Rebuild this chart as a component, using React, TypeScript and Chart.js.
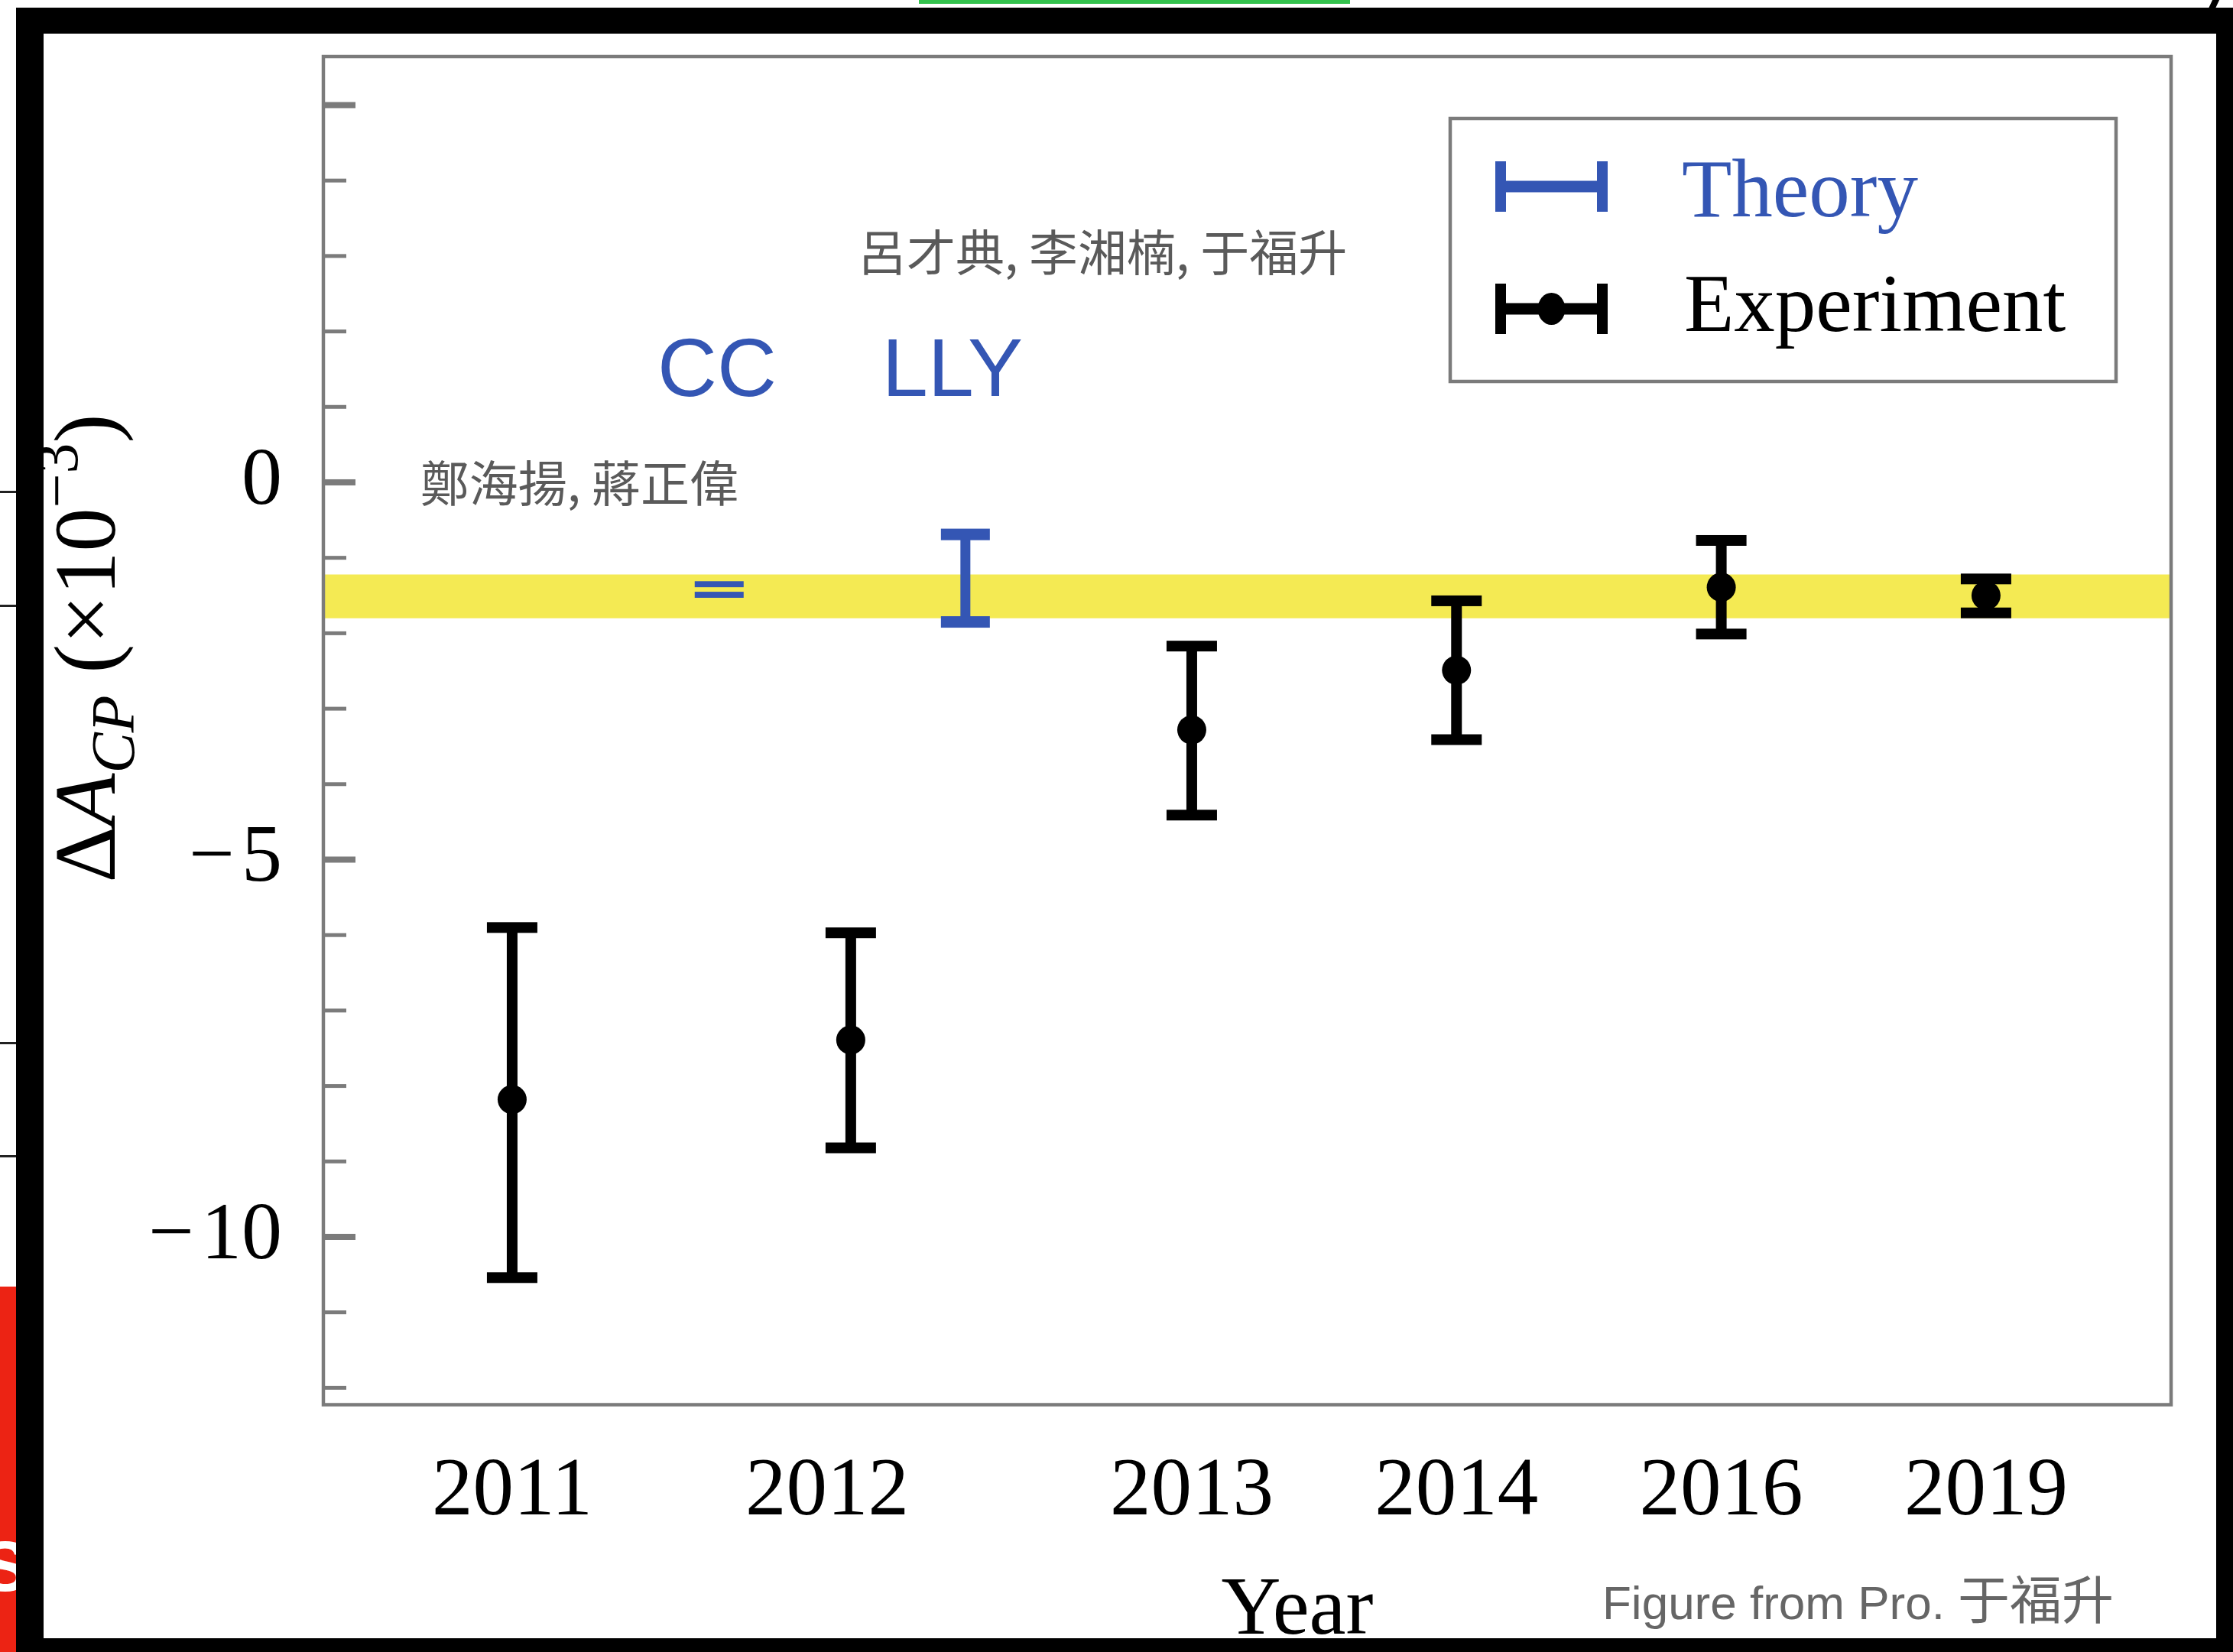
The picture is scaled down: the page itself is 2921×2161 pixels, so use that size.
import React, { useEffect, useRef } from "react";
import { Chart, registerables } from "chart.js";

Chart.register(...registerables);

// ---------------- data ----------------
const X_TICK_POS = [0.433, 1.623, 3, 4, 5, 6];
const X_TICK_LABELS = ["2011", "2012", "2013", "2014", "2016", "2019"];

const EXP_X = [0.433, 1.712, 3, 4, 5, 6];
const EXP_VALUE = [-8.18, -7.39, -3.28, -2.49, -1.39, -1.5];
const EXP_UPPER = [-5.9, -5.97, -2.17, -1.57, -0.77, -1.28];
const EXP_LOWER = [-10.54, -8.82, -4.41, -3.41, -2.01, -1.73];

const THEORY_LABELS = ["CC", "LLY"];
const THEORY_X = [1.215, 2.145];
const THEORY_UPPER = [-1.35, -0.69];
const THEORY_LOWER = [-1.49, -1.85];

const AUTHOR_TEXTS = ["鄭海揚, 蔣正偉", "呂才典, 李湘楠, 于福升"];

const BAND_UPPER = -1.22;
const BAND_LOWER = -1.8;

const X_RANGE = [-0.28, 6.699];
const Y_RANGE = [-12.224, 5.643];
const Y_LABEL_VALUES = [-10, -5, 0];
const Y_LABEL_TEXTS = ["\u2212\u200A10", "\u2212\u200A5", "0"];
const Y_MAJOR_TICKS = [-10, -5, 0, 5];
const Y_MINOR_TICKS = [-12, -11, -9, -8, -7, -6, -4, -3, -2, -1, 1, 2, 3, 4];

const LEGEND_TEXTS = ["Theory", "Experiment"];
const X_TITLE = "Year";
const FOOTER_TEXT = "Figure from Pro. ";
const FOOTER_CJK = "于福升";

// ---------------- styles ----------------
const W = 2921;
const H = 2161;
const SERIF = '"Liberation Serif", "Times New Roman", serif';
const SANS = '"Liberation Sans", Arial, sans-serif';
const CJK = '"Noto Sans CJK TC", "Noto Sans CJK SC", sans-serif';
const BLUE = "#3456B4";
const YELLOW = "#F4EA53";
const FRAME = "#7b7b7b";
const GRAY_TEXT = "#5a5a5a";

// annotation placement (data units of the two axes)
const THEORY_LABEL_X = [1.207, 2.096];
const THEORY_LABEL_BASE_Y = 1.14;
const AUTHOR_POS = [
  [0.086, -0.01],
  [1.738, 3.055],
];

type Seg = { text: string; font: string; dy?: number };

function richWidth(ctx: CanvasRenderingContext2D, segs: Seg[]) {
  let w = 0;
  for (const s of segs) {
    ctx.font = s.font;
    w += ctx.measureText(s.text).width;
  }
  return w;
}
function drawRich(ctx: CanvasRenderingContext2D, segs: Seg[], x: number, y: number) {
  let cx = x;
  for (const s of segs) {
    ctx.font = s.font;
    ctx.fillText(s.text, cx, y + (s.dy || 0));
    cx += ctx.measureText(s.text).width;
  }
}

const figurePlugin = {
  id: "figureDecor",
  afterDatasetsDraw(chart: any) {
    const { ctx, scales } = chart;
    const x = scales.x;
    const y = scales.y;
    ctx.save();
    // theory error bars
    THEORY_X.forEach((tx, i) => {
      const px = x.getPixelForValue(tx);
      const pTop = y.getPixelForValue(THEORY_UPPER[i]);
      const pBot = y.getPixelForValue(THEORY_LOWER[i]);
      const gap = pBot - pTop;
      const capT = Math.min(15, gap * 0.57);
      ctx.fillStyle = BLUE;
      if (gap > 2 * capT + 2) ctx.fillRect(px - 6.5, pTop, 13, gap);
      ctx.fillRect(px - 32, pTop - capT / 2, 64, capT);
      ctx.fillRect(px - 32, pBot - capT / 2, 64, capT);
    });
    // experiment error bars
    EXP_X.forEach((ex, i) => {
      const px = x.getPixelForValue(ex);
      const pTop = y.getPixelForValue(EXP_UPPER[i]);
      const pBot = y.getPixelForValue(EXP_LOWER[i]);
      ctx.fillStyle = "#000";
      ctx.fillRect(px - 7, pTop, 14, pBot - pTop);
      ctx.fillRect(px - 33, pTop - 7, 66, 14);
      ctx.fillRect(px - 33, pBot - 7, 66, 14);
    });
    ctx.restore();
  },
  afterDraw(chart: any) {
    const { ctx, chartArea: a, scales } = chart;
    const x = scales.x;
    const y = scales.y;
    ctx.save();
    // frame
    ctx.strokeStyle = FRAME;
    ctx.lineWidth = 4.5;
    ctx.strokeRect(a.left, a.top, a.right - a.left, a.bottom - a.top);
    // inward ticks on the left axis
    ctx.fillStyle = FRAME;
    Y_MAJOR_TICKS.forEach((v) => {
      const py = y.getPixelForValue(v);
      ctx.fillRect(a.left, py - 4, 42, 8);
    });
    Y_MINOR_TICKS.forEach((v) => {
      const py = y.getPixelForValue(v);
      ctx.fillRect(a.left, py - 2.5, 30, 5);
    });

    // theory labels
    ctx.fillStyle = BLUE;
    ctx.textAlign = "center";
    ctx.textBaseline = "alphabetic";
    ctx.font = `108px ${SANS}`;
    THEORY_LABELS.forEach((t, i) => {
      ctx.fillText(t, x.getPixelForValue(THEORY_LABEL_X[i]), y.getPixelForValue(THEORY_LABEL_BASE_Y));
    });
    // author names
    ctx.fillStyle = GRAY_TEXT;
    ctx.textAlign = "left";
    ctx.textBaseline = "middle";
    ctx.font = `64px ${CJK}`;
    AUTHOR_TEXTS.forEach((t, i) => {
      ctx.fillText(t, x.getPixelForValue(AUTHOR_POS[i][0]), y.getPixelForValue(AUTHOR_POS[i][1]));
    });

    // legend
    const bw = 871;
    const bh = 344;
    const bl = a.right - 72 - bw;
    const bt = a.top + 81;
    ctx.fillStyle = "#fff";
    ctx.fillRect(bl, bt, bw, bh);
    ctx.strokeStyle = FRAME;
    ctx.lineWidth = 4.5;
    ctx.strokeRect(bl, bt, bw, bh);
    const iconL = bl + 59;
    const iconR = bl + 206;
    const rows = [bt + 89, bt + 249];
    const colors = [BLUE, "#000"];
    rows.forEach((ry, i) => {
      ctx.fillStyle = colors[i];
      ctx.fillRect(iconL, ry - 7.5, iconR - iconL, 15);
      ctx.fillRect(iconL, ry - 33, 14, 66);
      ctx.fillRect(iconR - 14, ry - 33, 14, 66);
      if (i === 1) {
        ctx.beginPath();
        ctx.ellipse((iconL + iconR) / 2, ry, 18, 21, 0, 0, Math.PI * 2);
        ctx.fill();
      }
    });
    ctx.textAlign = "left";
    ctx.textBaseline = "alphabetic";
    ctx.font = `107px ${SERIF}`;
    ctx.fillStyle = BLUE;
    ctx.fillText(LEGEND_TEXTS[0], bl + 303, bt + 128);
    ctx.fillStyle = "#000";
    ctx.fillText(LEGEND_TEXTS[1], bl + 306, bt + 278);

    // y-axis title (rotated, with sub/superscript)
    const T = 114;
    const segs: Seg[] = [
      { text: "\u0394", font: `${T}px ${SERIF}` },
      { text: "A", font: `italic ${T}px ${SERIF}` },
      { text: "CP", font: `italic ${Math.round(T * 0.7)}px ${SERIF}`, dy: T * 0.22 },
      { text: " (\u00d710", font: `${T}px ${SERIF}` },
      { text: "\u22123", font: `${Math.round(T * 0.7)}px ${SERIF}`, dy: -T * 0.43 },
      { text: ")", font: `${T}px ${SERIF}` },
    ];
    ctx.fillStyle = "#000";
    const tw = richWidth(ctx, segs);
    ctx.save();
    ctx.translate(150, 848);
    ctx.rotate(-Math.PI / 2);
    drawRich(ctx, segs, -tw / 2, 0);
    ctx.restore();

    // x-axis title
    ctx.textAlign = "center";
    ctx.font = `108px ${SERIF}`;
    ctx.fillStyle = "#000";
    ctx.fillText(X_TITLE, 1697, 2137);

    // footer credit
    ctx.textAlign = "left";
    ctx.fillStyle = "#666";
    ctx.font = `62px ${SANS}`;
    ctx.fillText(FOOTER_TEXT, 2096, 2118);
    const fw = ctx.measureText(FOOTER_TEXT).width;
    ctx.font = `68px ${CJK}`;
    ctx.fillText(FOOTER_CJK, 2096 + fw, 2118);
    ctx.restore();
  },
};

export default function App() {
  const ref = useRef<HTMLCanvasElement>(null);

  useEffect(() => {
    const canvas = ref.current;
    if (!canvas) return;
    const chart = new Chart(canvas, {
      type: "scatter",
      data: {
        datasets: [
          {
            type: "line",
            label: "band",
            data: [
              { x: X_RANGE[0], y: BAND_UPPER },
              { x: X_RANGE[1], y: BAND_UPPER },
            ],
            fill: { value: BAND_LOWER },
            backgroundColor: YELLOW,
            borderWidth: 0,
            borderColor: "rgba(0,0,0,0)",
            pointRadius: 0,
            order: 10,
          } as any,
          {
            type: "scatter",
            label: "Experiment",
            data: EXP_X.map((v, i) => ({ x: v, y: EXP_VALUE[i] })),
            pointRadius: 19,
            pointHoverRadius: 19,
            backgroundColor: "#000",
            borderColor: "#000",
            borderWidth: 0,
            order: 1,
          },
        ],
      },
      options: {
        responsive: false,
        animation: false,
        devicePixelRatio: 1,
        events: [],
        layout: { padding: { left: 60, right: 81, top: 74, bottom: 0 } },
        plugins: { legend: { display: false }, tooltip: { enabled: false }, title: { display: false } },
        scales: {
          x: {
            type: "linear",
            position: "bottom",
            min: X_RANGE[0],
            max: X_RANGE[1],
            grid: { display: false, drawTicks: false },
            border: { display: false },
            afterBuildTicks: (s: any) => {
              s.ticks = X_TICK_POS.map((v) => ({ value: v }));
            },
            afterFit: (s: any) => {
              s.height = H - 1837.5;
              s.paddingLeft = 0;
              s.paddingRight = 0;
            },
            ticks: {
              autoSkip: false,
              maxRotation: 0,
              minRotation: 0,
              padding: 51,
              color: "#000",
              font: { family: SERIF, size: 107 },
              callback: (_v: any, i: number) => X_TICK_LABELS[i] ?? "",
            },
          },
          y: {
            type: "linear",
            min: Y_RANGE[0],
            max: Y_RANGE[1],
            grid: { display: false, drawTicks: false },
            border: { display: false },
            afterBuildTicks: (s: any) => {
              s.ticks = Y_LABEL_VALUES.map((v) => ({ value: v }));
            },
            afterFit: (s: any) => {
              s.width = 363;
              s.paddingTop = 0;
              s.paddingBottom = 0;
            },
            ticks: {
              autoSkip: false,
              padding: 54,
              color: "#000",
              font: { family: SERIF, size: 106 },
              callback: (_v: any, i: number) => Y_LABEL_TEXTS[i] ?? "",
            },
          },
        },
      },
      plugins: [figurePlugin],
    } as any);
    return () => chart.destroy();
  }, []);

  const abs = (l: number, t: number, w: number, h: number, bg: string): React.CSSProperties => ({
    position: "absolute",
    left: l,
    top: t,
    width: w,
    height: h,
    background: bg,
  });

  return (
    <div style={{ position: "absolute", left: 0, top: 0, width: W, height: H, background: "#fff", overflow: "hidden" }}>
      <canvas ref={ref} width={W} height={H} style={{ position: "absolute", left: 0, top: 0, width: W, height: H }} />
      {/* screenshot frame */}
      <div style={abs(21, 10, 2900, 34, "#000")} />
      <div style={abs(21, 10, 36, 2151, "#000")} />
      <div style={abs(2899, 10, 22, 2151, "#000")} />
      <div style={abs(21, 2143, 2900, 18, "#000")} />
      {/* stray bits around the frame */}
      <div style={abs(1202, 0, 564, 5, "#33c24d")} />
      <div style={{ ...abs(2892, -3, 9, 15, "#000"), transform: "skewX(-25deg)" }} />
      <div style={abs(0, 642, 21, 3, "#222")} />
      <div style={abs(0, 791, 21, 3, "#222")} />
      <div style={abs(0, 1363, 21, 3, "#222")} />
      <div style={abs(0, 1511, 21, 3, "#222")} />
      <div style={{ ...abs(0, 1683, 21, 478, "#EC2314"), overflow: "hidden" }}>
        <span
          style={{
            position: "absolute",
            left: -24,
            top: 320,
            fontFamily: SANS,
            fontWeight: 700,
            fontSize: 92,
            lineHeight: "92px",
            color: "#fff",
          }}
        >
          S
        </span>
      </div>
    </div>
  );
}
